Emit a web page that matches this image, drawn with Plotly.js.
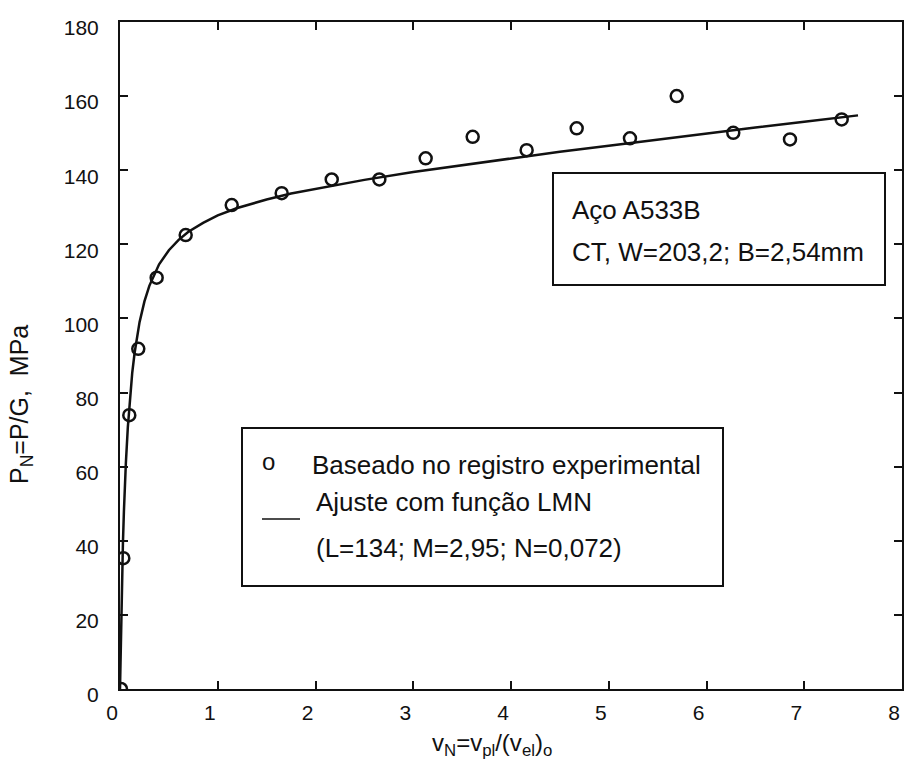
<!DOCTYPE html>
<html>
<head>
<meta charset="utf-8">
<script src="https://cdn.plot.ly/plotly-3.0.1.min.js"></script>
<style>
  html, body { margin: 0; padding: 0; background: #fff; }
  #chart { width: 904px; height: 762px; }
</style>
</head>
<body>
<div id="chart"></div>
<script>
// Experimental normalized load points P_N vs v_N
const expX = [0.01, 0.034, 0.095, 0.187, 0.375, 0.672, 1.143, 1.654, 2.166, 2.653, 3.127, 3.608, 4.16, 4.672, 5.217, 5.695, 6.274, 6.854, 7.383];
const expY = [0, 35.3, 73.9, 91.8, 111.0, 122.5, 130.6, 133.8, 137.5, 137.5, 143.2, 149.0, 145.4, 151.3, 148.6, 160.0, 150.1, 148.3, 153.7];

// Fitted LMN curve, sampled along its length
const fitX = [0, 0.005, 0.01, 0.02, 0.03, 0.04, 0.05, 0.06, 0.08, 0.1, 0.125, 0.15, 0.2, 0.25, 0.3, 0.4, 0.5, 0.6, 0.7, 0.85, 1.0, 1.2, 1.5, 1.75, 2.0, 2.5, 3.0, 3.5, 4.0, 4.5, 5.0, 5.5, 6.0, 6.5, 7.0, 7.55];
const fitY = [0, 8.7, 16.3, 29.1, 39.4, 47.9, 55.0, 61.0, 70.6, 78.1, 85.3, 90.8, 99.0, 104.6, 108.8, 114.6, 118.4, 121.2, 123.4, 125.8, 127.8, 129.8, 132.1, 133.7, 135.0, 137.4, 139.5, 141.4, 143.2, 145.0, 146.6, 148.3, 149.9, 151.5, 153.1, 154.8];

// Axis ticks
const xTicks = [0, 1, 2, 3, 4, 5, 6, 7, 8];
const yTicks = [0, 20, 40, 60, 80, 100, 120, 140, 160, 180];

const FONT = '"Liberation Sans", Arial, Helvetica, sans-serif';
const W = 904, H = 762;
const M = { l: 120, r: 2, t: 22, b: 73 };
const PW = W - M.l - M.r, PH = H - M.t - M.b;
// pixel -> paper helpers for the boxed notes
const px = v => (v - M.l) / PW;
const py = v => (H - M.b - v) / PH;

const traces = [
  {
    x: fitX, y: fitY, type: 'scatter', mode: 'lines',
    line: { color: '#111', width: 2.5 },
    hoverinfo: 'skip'
  },
  {
    x: expX, y: expY, type: 'scatter', mode: 'markers',
    marker: { symbol: 'circle-open', size: 12, color: '#111', line: { width: 2.5, color: '#111' } }
  }
];

function note(text, x, y, opts) {
  return Object.assign({
    text: text, xref: 'paper', yref: 'paper', x: px(x), y: py(y),
    xanchor: 'left', yanchor: 'middle', showarrow: false,
    font: { family: FONT, size: 26, color: '#111' }
  }, opts || {});
}

const layout = {
  width: W, height: H,
  margin: M,
  paper_bgcolor: '#fff', plot_bgcolor: '#fff',
  showlegend: false,
  font: { family: FONT, color: '#111' },
  xaxis: {
    range: [0, 8], tickvals: xTicks, ticktext: xTicks.map(String),
    ticks: 'inside', ticklen: 8, tickwidth: 2, tickcolor: '#111',
    showline: true, linewidth: 2, linecolor: '#111', mirror: 'ticks',
    showgrid: false, zeroline: false,
    tickfont: { family: FONT, size: 21, color: '#111' },
    ticklabelshift: -8, ticklabelstandoff: 4
  },
  yaxis: {
    range: [0, 180], tickvals: yTicks, ticktext: yTicks.map(String),
    ticks: 'inside', ticklen: 8, tickwidth: 2, tickcolor: '#111',
    showline: true, linewidth: 2, linecolor: '#111', mirror: 'ticks',
    showgrid: false, zeroline: false,
    tickfont: { family: FONT, size: 21, color: '#111' },
    ticklabelshift: 6, ticklabelstandoff: 15
  },
  shapes: [
    { type: 'rect', xref: 'paper', yref: 'paper', x0: px(553), x1: px(885), y0: py(285), y1: py(173),
      line: { color: '#111', width: 2 }, fillcolor: '#fff', layer: 'above' },
    { type: 'rect', xref: 'paper', yref: 'paper', x0: px(242), x1: px(723), y0: py(586), y1: py(428),
      line: { color: '#111', width: 2 }, fillcolor: '#fff', layer: 'above' },
    { type: 'line', xref: 'paper', yref: 'paper', x0: px(262), x1: px(300), y0: py(519), y1: py(519),
      line: { color: '#111', width: 1.5 }, layer: 'above' }
  ],
  annotations: [
    note('Aço A533B', 570, 210),
    note('CT, W=203,2; B=2,54mm', 570, 252),
    note('o', 260, 462, { font: { family: FONT, size: 24, color: '#111' } }),
    note('Baseado no registro experimental', 310, 465),
    note('Ajuste com função LMN', 314, 502),
    note('(L=134; M=2,95; N=0,072)', 314, 548),
    { text: 'v<sub>N</sub>=v<sub>pl</sub>/(v<sub>el</sub>)<sub>o</sub>', xref: 'paper', yref: 'paper',
      x: px(492), y: py(744), xanchor: 'center', yanchor: 'middle', showarrow: false,
      font: { family: FONT, size: 24, color: '#111' } },
    { text: 'P<sub>N</sub>=P/G,  MPa', xref: 'paper', yref: 'paper',
      x: px(21), y: py(404), xanchor: 'center', yanchor: 'middle', showarrow: false, textangle: -90,
      font: { family: FONT, size: 25, color: '#111' } }
  ]
};

Plotly.newPlot('chart', traces, layout, { displayModeBar: false, staticPlot: true });
</script>
</body>
</html>
